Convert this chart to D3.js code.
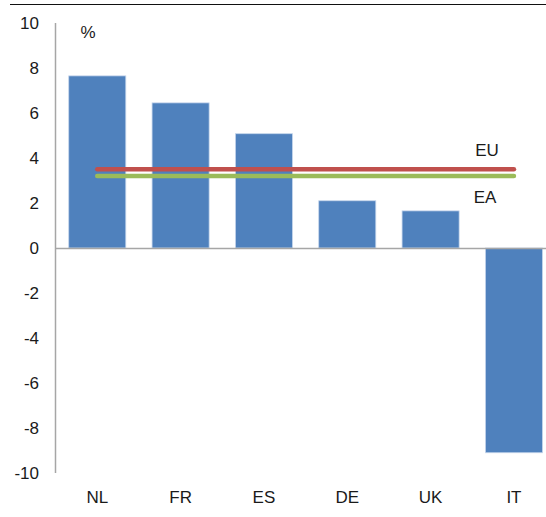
<!DOCTYPE html>
<html><head><meta charset="utf-8">
<script src="https://cdn.jsdelivr.net/npm/d3@7"></script>
<style>body{margin:0;background:#fff}svg{display:block}</style>
</head><body>
<svg id="c" width="546" height="517"></svg>
<script>
const categories = ["NL","FR","ES","DE","UK","IT"];
const values = [7.65, 6.45, 5.08, 2.1, 1.65, -9.1];
const refLines = [{name:"EU", value:3.5, color:"#C0504D"},{name:"EA", value:3.2, color:"#9BBB59"}];
const yTicks = [10,8,6,4,2,0,-2,-4,-6,-8,-10];

const svg = d3.select("#c");
const font = "Liberation Sans, Arial, sans-serif";
const fs = 17;
const y = d3.scaleLinear().domain([-10,10]).range([473,23]);
const x = d3.scaleBand().domain(categories).range([55.6,555.6]).paddingInner(0.315).paddingOuter(0.1575);

// top rule
svg.append("line").attr("x1",10).attr("x2",546).attr("y1",4.5).attr("y2",4.5).attr("stroke","#111").attr("stroke-width",1.2);

// y axis line
svg.append("line").attr("x1",55.5).attr("x2",55.5).attr("y1",y(10)).attr("y2",y(-10)).attr("stroke","#a6a6a6").attr("stroke-width",1.5);

// tick labels
svg.selectAll(".yt").data(yTicks).enter().append("text")
  .attr("x",39).attr("y",d=>y(d)).attr("dy","0.35em").attr("text-anchor","end")
  .attr("font-family",font).attr("font-size",fs).attr("fill","#1a1a1a").text(d=>d);

// bars
svg.selectAll(".bar").data(values).enter().append("rect")
  .attr("x",(d,i)=>x(categories[i]))
  .attr("width",x.bandwidth())
  .attr("y",d=>y(Math.max(0,d)))
  .attr("height",d=>Math.abs(y(d)-y(0)))
  .attr("fill","#4F81BD").attr("stroke","#c6d6ec").attr("stroke-width",0.8);

// zero line
svg.append("line").attr("x1",55).attr("x2",546).attr("y1",y(0)+0.5).attr("y2",y(0)+0.5).attr("stroke","#a6a6a6").attr("stroke-width",1.5);

// reference lines
const xStart = x(categories[0])+x.bandwidth()/2;
const xEnd = x(categories[categories.length-1])+x.bandwidth()/2;
svg.selectAll(".ref").data(refLines).enter().append("line")
  .attr("x1",xStart).attr("x2",xEnd).attr("y1",d=>y(d.value)).attr("y2",d=>y(d.value))
  .attr("stroke",d=>d.color).attr("stroke-width",4.5).attr("stroke-linecap","round");

// ref labels
svg.append("text").attr("x",487).attr("y",y(refLines[0].value)-13).attr("text-anchor","middle")
  .attr("font-family",font).attr("font-size",fs).attr("fill","#1a1a1a").text(refLines[0].name);
svg.append("text").attr("x",485).attr("y",y(refLines[1].value)+27).attr("text-anchor","middle")
  .attr("font-family",font).attr("font-size",fs).attr("fill","#1a1a1a").text(refLines[1].name);

// % label
svg.append("text").attr("x",88).attr("y",38).attr("text-anchor","middle")
  .attr("font-family",font).attr("font-size",fs).attr("fill","#1a1a1a").text("%");

// category labels
svg.selectAll(".xl").data(categories).enter().append("text")
  .attr("x",d=>x(d)+x.bandwidth()/2).attr("y",503).attr("text-anchor","middle")
  .attr("font-family",font).attr("font-size",fs).attr("fill","#1a1a1a").text(d=>d);
</script>
</body></html>
